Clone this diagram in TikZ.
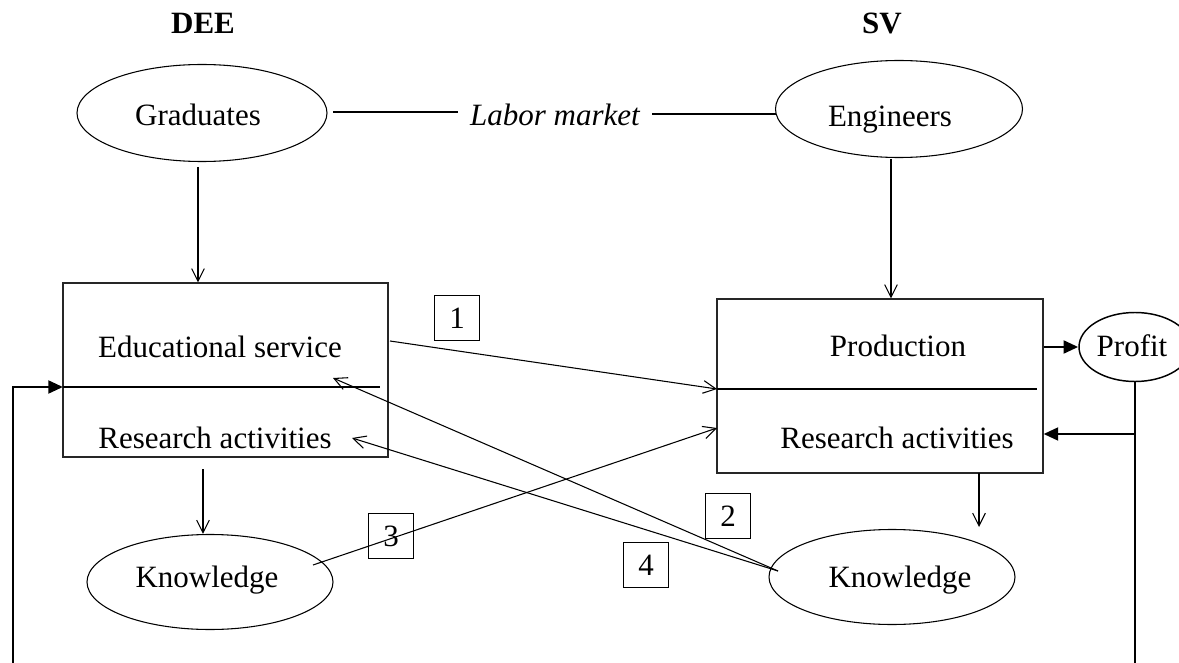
\documentclass[tikz,border=0pt]{standalone}
\usepackage{fontspec}
\setmainfont{Liberation Serif}
\usetikzlibrary{arrows.meta,shapes.geometric,calc}
\newcommand\dfont{\fontsize{23.25pt}{28pt}\selectfont}
\tikzset{
  thin line/.style={line width=0.8pt},
  arr/.style={thin line,-{Straight Barb[length=9.5pt,width=9.5pt]}},
  boldline/.style={line width=2.2pt},
  boldarr/.style={boldline,-{Triangle[length=11pt,width=9.5pt]}},
  ell/.style={ellipse,draw,thin line,inner sep=0pt},
  txt/.style={inner sep=0pt,font=\dfont,anchor=base},
  bigbox/.style={draw=black!85,thin line,inner sep=0pt},
  numbox/.style={draw,line width=1.1pt,minimum width=33.75pt,minimum height=33.75pt,inner sep=0pt,font=\dfont},
}
\begin{document}
\begin{tikzpicture}[x=0.75pt,y=-0.75pt]
\useasboundingbox (0,0) rectangle (1179,663);

% titles
\node[txt,font=\dfont\bfseries] (dee) at (203,34) {DEE};
\node[txt,font=\dfont\bfseries] (sv) at (882,34) {SV};

% ellipses
\node[ell,minimum width=187.5pt,minimum height=72.75pt] (grad) at (202,113) {};
\node[txt] (gradt) at (198,126) {Graduates};
\node[ell,minimum width=185.25pt,minimum height=72.75pt] (eng) at (899,109) {};
\node[txt] (engt) at (890,127) {Engineers};
\node[txt,font=\dfont\itshape,inner xsep=9pt] (labor) at (555,126) {Labor market};
\node[ell,minimum width=184.5pt,minimum height=71.25pt] (lknow) at (210,582) {};
\node[txt] (lknowt) at (207,587) {Knowledge};
\node[ell,minimum width=184.5pt,minimum height=71.25pt] (rknow) at (892,577) {};
\node[txt] (rknowt) at (900,587) {Knowledge};
\node[ell,line width=1.1pt,minimum width=84pt,minimum height=51.75pt] (profit) at (1135,347) {};
\node[txt] (profitt) at (1132,356) {Profit};

% boxes
\node[bigbox,minimum width=243.75pt,minimum height=130.5pt] (lbox) at (225.5,370) {};
\node[bigbox,minimum width=244.5pt,minimum height=130.5pt] (rbox) at (880,386) {};
\node[txt] (educ) at (220,357) {Educational service};
\node[txt] (lres) at (215,448) {Research activities};
\node[txt] (prod) at (898,356) {Production};
\node[txt] (rres) at (897,448) {Research activities};

% dividers
\coordinate (ldivL) at (63,387);
\coordinate (ldivR) at (380,387);
\coordinate (rdivL) at (717,389);
\coordinate (rdivR) at (1037,389);
\draw[thin line] (ldivL) -- (ldivR);
\draw[thin line] (rdivL) -- (rdivR);

% number boxes
\node[numbox] (n1) at (457,318) {1};
\node[numbox] (n2) at (728,516) {2};
\node[numbox] (n3) at (391,536) {3};
\node[numbox] (n4) at (646,565) {4};

% labor market lines
\coordinate (lm1) at (333,112);
\coordinate (lm2) at (776,114);
\draw[thin line] (lm1) -- (lm1 -| labor.west);
\draw[thin line] (lm2 -| labor.east) -- (lm2);

% vertical arrows
\coordinate (g1) at (198,167);
\draw[arr] (g1) -- (g1 |- lbox.north);
\coordinate (e1) at (891,159);
\draw[arr] (e1) -- (e1 |- rbox.north);
\coordinate (l1) at (203,469);
\draw[arr] (l1) -- (l1 |- lknow.north);
\coordinate (r1) at (979,473);
\coordinate (r2) at (979,527);
\draw[arr] (r1) -- (r2);

% cross arrows
\coordinate (a1s) at (390,341);
\draw[arr] (a1s) -- (rdivL);
\coordinate (a3s) at (313,565);
\coordinate (a3e) at (717,428);
\draw[arr] (a3s) -- (a3e);
\coordinate (kstart) at (778,571);
\coordinate (a2e) at (333,378);
\coordinate (a4e) at (352,438);
\draw[arr] (kstart) -- (a2e);
\draw[arr] (kstart) -- (a4e);

% bold feedback
\draw[boldarr] (rbox.east |- profit.west) -- (profit.west);
\coordinate (pbot) at (1135,663);
\coordinate (pbranch) at (1135,434);
\draw[boldline] (profit.south) -- (pbot);
\draw[boldarr] (pbranch) -- (pbranch -| rbox.east);
\coordinate (lbot) at (13,663);
\coordinate (lcorner) at (13,387);
\draw[boldarr] (lbot) -- (lcorner) -- (ldivL);
\end{tikzpicture}
\end{document}
